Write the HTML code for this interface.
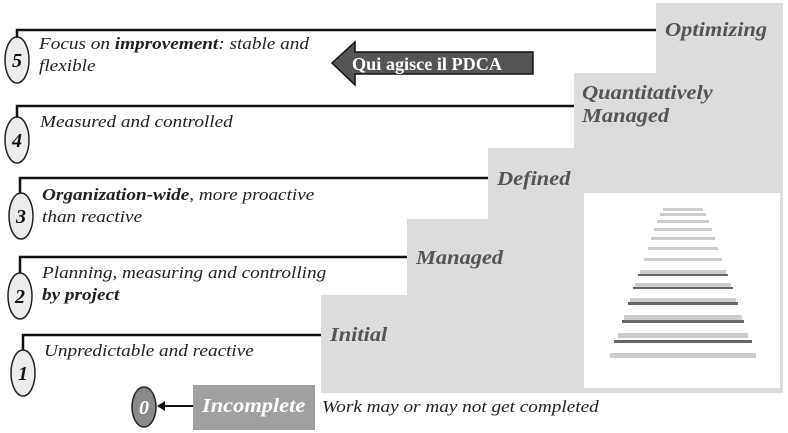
<!DOCTYPE html>
<html><head><style>
body{margin:0;width:788px;height:433px;background:#fff;position:relative;overflow:hidden;font-family:"Liberation Serif",serif;}
.t{position:absolute;font-style:italic;font-size:17px;color:#222;line-height:22px;white-space:nowrap;transform:scaleX(1.13);transform-origin:0 0}
.l{position:absolute;font-style:italic;font-weight:bold;font-size:20px;color:#555;line-height:24px;white-space:nowrap;transform:scaleX(1.12);transform-origin:0 0}
</style></head><body>
<svg width="788" height="433" style="position:absolute;left:0;top:0">
<path d="M321,393 V295 H407 V219 H488 V148 H574 V73 H656 V3 H783 V393 Z" fill="#dcdcdc"/>
<rect x="584" y="193" width="196" height="195" fill="#fff"/>
<g fill="#ccc">
<rect x="610" y="353" width="146" height="5"/>
<rect x="618" y="333" width="130" height="5"/>
<rect x="624" y="315" width="118" height="5"/>
<rect x="630" y="298" width="106" height="4"/>
<rect x="635" y="283" width="96" height="4"/>
<rect x="640" y="270" width="86" height="4"/>
<rect x="644" y="258" width="78" height="3"/>
<rect x="648" y="247" width="70" height="3"/>
<rect x="651" y="237" width="64" height="3"/>
<rect x="654" y="228" width="58" height="3"/>
<rect x="657" y="220" width="52" height="3"/>
<rect x="660" y="213" width="46" height="3"/>
<rect x="663" y="208" width="40" height="3"/>
</g>
<g fill="#666">
<rect x="614" y="340" width="138" height="3"/><rect x="622" y="320" width="122" height="3"/><rect x="628" y="302" width="110" height="3"/><rect x="633" y="287" width="100" height="2"/><rect x="638" y="274" width="90" height="2"/>
</g>
<g stroke="#111" stroke-width="2.5" fill="none">
<path d="M17,37 V30 H656"/>
<path d="M17,117 V106 H574"/>
<path d="M20,193 V178 H488"/>
<path d="M20,273 V257 H407"/>
<path d="M23,350 V335 H321"/>
</g>
<g stroke="#222" stroke-width="1.5" fill="#ececec">
<ellipse cx="17" cy="60" rx="12" ry="23"/>
<ellipse cx="17" cy="140" rx="12" ry="23"/>
<ellipse cx="21" cy="216" rx="12" ry="23"/>
<ellipse cx="20" cy="296" rx="12" ry="23"/>
<ellipse cx="23" cy="373" rx="12" ry="23"/>
<ellipse cx="144" cy="407" rx="12" ry="20" fill="#8a8a8a"/>
</g>
<g font-family="Liberation Serif,serif" font-style="italic" font-weight="bold" font-size="20" fill="#111" text-anchor="middle">
<text x="17" y="67">5</text><text x="17" y="147">4</text><text x="21" y="223">3</text><text x="20" y="303">2</text><text x="23" y="380">1</text>
<text x="144" y="414" fill="#fff">0</text>
</g>
<line x1="193" y1="406" x2="163" y2="406" stroke="#111" stroke-width="2"/>
<path d="M157,406 L165,401 L165,411 Z" fill="#111"/>
<rect x="193" y="385" width="122" height="45" fill="#a0a0a0"/>
<path d="M332,63 L355,42 L355,52 L533,52 L533,74 L355,74 L355,85 Z" fill="#555" stroke="#111" stroke-width="1.5"/>
<text x="352" y="70" font-family="Liberation Serif,serif" font-weight="bold" font-size="18" fill="#fff" textLength="150" lengthAdjust="spacingAndGlyphs">Qui agisce il PDCA</text>
</svg>
<div class="t" style="left:39px;top:33px">Focus on <b>improvement</b>: stable and<br>flexible</div>
<div class="t" style="left:40px;top:111px">Measured and controlled</div>
<div class="t" style="left:42px;top:184px"><b>Organization-wide</b>, more proactive<br>than reactive</div>
<div class="t" style="left:42px;top:262px">Planning, measuring and controlling<br><b>by project</b></div>
<div class="t" style="left:44px;top:340px">Unpredictable and reactive</div>
<div class="t" style="left:322px;top:396px">Work may or may not get completed</div>
<div class="l" style="left:202px;top:394px;color:#fff">Incomplete</div>
<div class="l" style="left:330px;top:323px">Initial</div>
<div class="l" style="left:416px;top:246px">Managed</div>
<div class="l" style="left:497px;top:167px">Defined</div>
<div class="l" style="left:582px;top:82px;line-height:23px">Quantitatively<br>Managed</div>
<div class="l" style="left:665px;top:18px">Optimizing</div>
</body></html>
